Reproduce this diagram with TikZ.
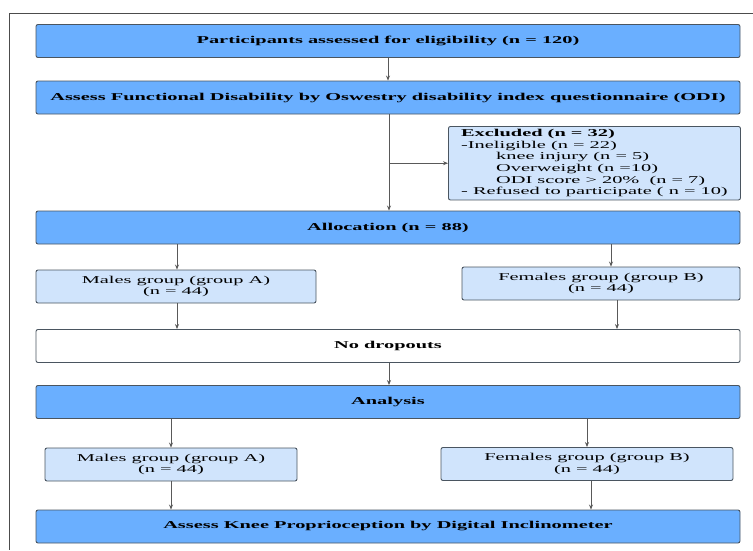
\documentclass[tikz,border=0pt]{standalone}
\usepackage{fontspec}
\setmainfont{Liberation Serif}[FakeStretch=1.94]
\usetikzlibrary{positioning,arrows.meta}

\definecolor{darkbox}{HTML}{6AAFFF}
\definecolor{lightbox}{HTML}{D0E4FC}
\definecolor{edgegray}{HTML}{4A5560}

\tikzset{
  box/.style={draw=edgegray,line width=0.9pt,rounded corners=2pt,
    minimum height=33pt,inner sep=3pt,align=center,
    font=\fontsize{10.5}{11.6}\selectfont},
  mainbox/.style={box,fill=darkbox,minimum width=704pt,font=\fontsize{10.5}{11.6}\selectfont\bfseries},
  groupbox/.style={box,fill=lightbox},
  arr/.style={-{Stealth[length=5pt,width=4pt]},draw=black!65,line width=0.7pt}
}

\begin{document}
\begin{tikzpicture}[x=1pt,y=-1pt]
  \useasboundingbox (0,0) rectangle (753,550);
  % --- Outer frame ---
  \draw[black!70,line width=0.9pt] (753,13) -- (9,13) -- (9,550);

  % --- Enrolment ---
  \node[mainbox] (part) at (388,41) {Participants assessed for eligibility (n = 120)};
  \node[mainbox] (odi) at (388,97.5) {Assess Functional Disability by Oswestry disability index questionnaire (ODI)};
  \node[groupbox,minimum width=292pt,minimum height=73pt,align=left,anchor=north west]
    (excl) at (448,126) {\textbf{Excluded (n = 32)}\\
    -Ineligible (n = 22)\\
    \hspace*{35pt}knee injury (n = 5)\\
    \hspace*{35pt}Overweight (n =10)\\
    \hspace*{35pt}ODI score > 20\%\ \ (n = 7)\\
    - Refused to participate ( n = 10)};

  % --- Allocation ---
  \node[mainbox] (alloc) at (388,227.5) {Allocation (n = 88)};
  \node[groupbox,minimum width=280pt] (maleA) at (176,286.5) {Males group (group A)\\(n = 44)};
  \node[groupbox,minimum width=278pt] (femB) at (601,283.5) {Females group (group B)\\(n = 44)};
  \node[box,fill=white,minimum width=704pt,font=\fontsize{10.5}{11.6}\selectfont\bfseries] (nodrop) at (388,346) {No dropouts};

  % --- Analysis ---
  \node[mainbox] (anal) at (388,402) {Analysis};
  \node[groupbox,minimum width=252pt] (maleA2) at (171,464.5) {Males group (group A)\\(n = 44)};
  \node[groupbox,minimum width=292pt] (femB2) at (587,464) {Females group (group B)\\(n = 44)};
  \node[mainbox] (knee) at (388,526.5) {Assess Knee Proprioception by Digital Inclinometer};

  % --- Connectors ---
  \draw[arr] (part) -- (odi);
  \draw[arr] ([xshift=1pt]odi.south) -- ([xshift=1pt]alloc.north);
  \draw[arr] ([xshift=1pt]odi.south |- excl.west) -- (excl.west);
  \draw[arr] ([xshift=1pt]alloc.south -| maleA.north) -- ([xshift=1pt]maleA.north);
  \draw[arr] ([xshift=10pt]alloc.south -| femB.north) -- ([xshift=10pt]femB.north);
  \draw[arr] ([xshift=1pt]maleA.south) -- ([xshift=1pt]nodrop.north -| maleA.south);
  \draw[arr] ([xshift=16pt]femB.south) -- ([xshift=16pt]nodrop.north -| femB.south);
  \draw[arr] ([xshift=1pt]nodrop.south) -- ([xshift=1pt]anal.north);
  \draw[arr] (anal.south -| maleA2.north) -- (maleA2.north);
  \draw[arr] (anal.south -| femB2.north) -- (femB2.north);
  \draw[arr] (maleA2.south) -- (knee.north -| maleA2.south);
  \draw[arr] ([xshift=4pt]femB2.south) -- ([xshift=4pt]knee.north -| femB2.south);
\end{tikzpicture}
\end{document}
